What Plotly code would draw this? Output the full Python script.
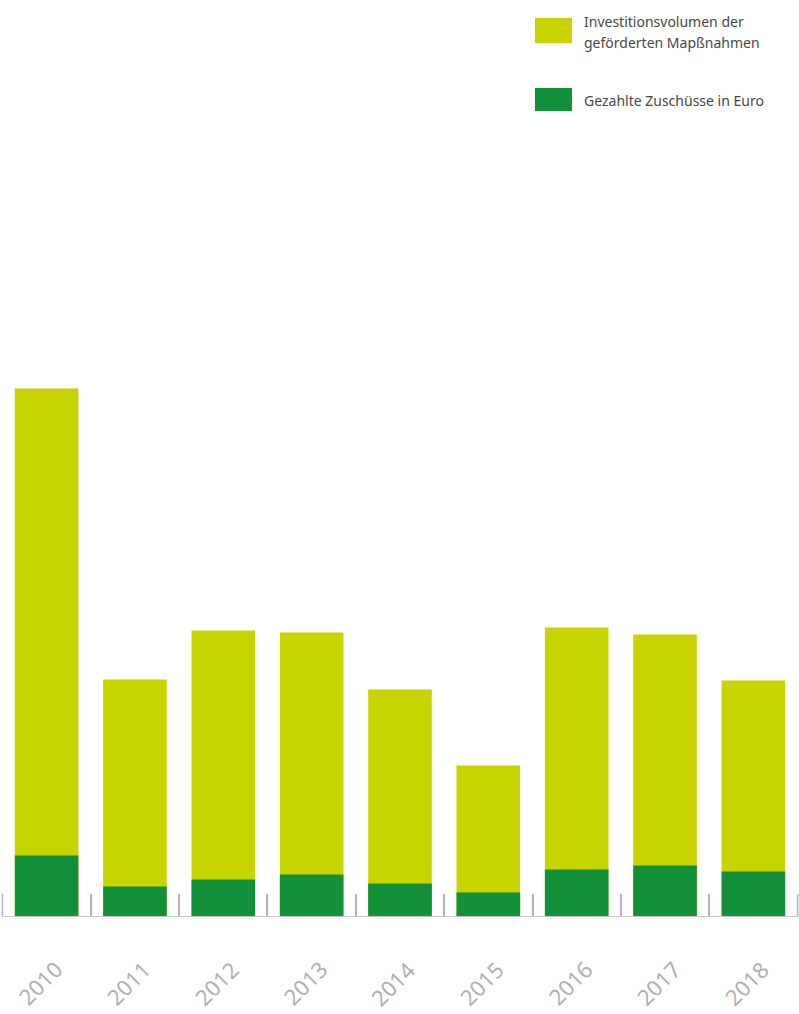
import plotly.graph_objects as go

# Förderjahre und Werte (relative Einheiten)
years = ["2010", "2011", "2012", "2013", "2014", "2015", "2016", "2017", "2018"]
invest_volume = [105.5, 47.3, 57.1, 56.7, 45.3, 30.1, 57.7, 56.3, 47.1]
grants_paid = [12.1, 5.9, 7.3, 8.3, 6.5, 4.7, 9.3, 10.1, 8.9]

legend_labels = ["Investitionsvolumen der", "geförderten Mapßnahmen", "Gezahlte Zuschüsse in Euro"]

YELLOW = "#c8d400"
GREEN = "#13903a"
TICK = "#b8b0c2"

fig = go.Figure()
fig.add_trace(go.Bar(x=years, y=invest_volume, marker=dict(color=YELLOW, line=dict(width=0)),
                     name=legend_labels[0] + " " + legend_labels[1]))
fig.add_trace(go.Bar(x=years, y=grants_paid, marker=dict(color=GREEN, line=dict(width=0)),
                     name=legend_labels[2]))

W, H = 799, 1014
ml, mr, mt, mb = 2, 1, 100, 98
pw, ph = W - ml - mr, H - mt - mb
x_range = [-0.505, len(years) - 0.495]
tick_len = 22


def px_x(x):
    return (x - ml) / pw


def px_y(y):
    return (H - mb - y) / ph


def cat_paper(i):
    return (i - x_range[0]) / (x_range[1] - x_range[0])


# Legende als Farbfelder mit Beschriftung
shapes = [
    dict(type="rect", xref="paper", yref="paper", x0=px_x(535), x1=px_x(572),
         y0=px_y(43), y1=px_y(18), fillcolor=YELLOW, line=dict(width=0)),
    dict(type="rect", xref="paper", yref="paper", x0=px_x(535), x1=px_x(572),
         y0=px_y(111), y1=px_y(88), fillcolor=GREEN, line=dict(width=0)),
]
# Randstriche der Achse links und rechts
for b in (-0.5, len(years) - 0.5):
    shapes.append(dict(type="line", xref="paper", yref="paper",
                       x0=cat_paper(b), x1=cat_paper(b), y0=0, y1=tick_len / ph,
                       line=dict(color=TICK, width=1.5)))

label_font = dict(family="Noto Sans", size=14, color="#474747")
annotations = [
    dict(xref="paper", yref="paper", x=px_x(582), y=px_y(22), text=legend_labels[0],
         showarrow=False, xanchor="left", yanchor="middle", font=label_font),
    dict(xref="paper", yref="paper", x=px_x(582), y=px_y(42), text=legend_labels[1],
         showarrow=False, xanchor="left", yanchor="middle", font=label_font),
    dict(xref="paper", yref="paper", x=px_x(582), y=px_y(100), text=legend_labels[2],
         showarrow=False, xanchor="left", yanchor="middle", font=label_font),
]

# Jahreszahlen schräg unter den Balken
for i, yr in enumerate(years):
    annotations.append(dict(
        xref="paper", yref="paper", x=cat_paper(i), y=px_y(983), xshift=-7,
        text=yr, showarrow=False, textangle=-45,
        xanchor="center", yanchor="middle",
        font=dict(family="Noto Sans", size=22, color="#b0b0b0"),
    ))

fig.update_layout(
    width=W, height=H,
    margin=dict(l=ml, r=mr, t=mt, b=mb),
    barmode="overlay",
    bargap=0.28,
    showlegend=False,
    plot_bgcolor="white",
    paper_bgcolor="white",
    shapes=shapes,
    annotations=annotations,
)
fig.update_xaxes(
    type="category",
    range=x_range,
    tickson="boundaries",
    ticks="inside",
    ticklen=tick_len,
    tickwidth=1.5,
    tickcolor=TICK,
    showline=True,
    linecolor="#c8c8c8",
    linewidth=1,
    showticklabels=False,
    showgrid=False,
)
fig.update_yaxes(range=[0, ph * 0.2], visible=False, showgrid=False, zeroline=False)

fig.write_html("out.html")
